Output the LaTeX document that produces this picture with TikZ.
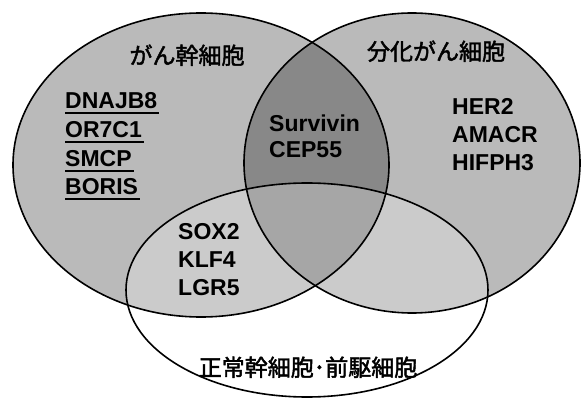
\documentclass[tikz,border=0pt]{standalone}
\usepackage{fontspec}
\setmainfont{Liberation Sans}
\newfontfamily\jp[FakeBold=2]{Noto Sans CJK JP}
\begin{document}
\begin{tikzpicture}[x=1pt,y=-1pt,
  venn/.style={draw=black, line width=1.6pt},
  grayfill/.style={fill=black, fill opacity=0.27},
  gene/.style={font=\fontsize{23}{23}\selectfont\bfseries, inner sep=0pt, anchor=base west},
  jlabel/.style={font=\jp\fontsize{23}{23}\selectfont, inner sep=0pt, anchor=base},
  ul/.style={line width=1.5pt}]
\useasboundingbox (0,0) rectangle (582,398);
% fills
\fill[grayfill] (201,165) ellipse [x radius=188pt, y radius=152pt];
\fill[grayfill] (412,163) ellipse [x radius=168pt, y radius=150pt];
\fill[white, fill opacity=0.25] (307,290) ellipse [x radius=181pt, y radius=107pt];
% outlines
\draw[venn] (201,165) ellipse [x radius=188pt, y radius=152pt];
\draw[venn] (412,163) ellipse [x radius=168pt, y radius=150pt];
\draw[venn] (307,290) ellipse [x radius=181pt, y radius=107pt];
% set labels
\node[jlabel] (lc) at (187,64) {がん幹細胞};
\node[jlabel] (lr) at (436,60) {分化がん細胞};
\node[jlabel] (lb) at (308,376) {正常幹細胞･前駆細胞};
% cancer stem cell genes
\node[gene] (g1) at (65,109) {DNAJB8};
\node[gene] (g2) at (65,138) {OR7C1};
\node[gene] (g3) at (65,167) {SMCP};
\node[gene] (g4) at (65,195) {BORIS};
\foreach \g in {g1,g2,g3,g4}
  \draw[ul] ([yshift=-4pt]\g.base west) -- ([yshift=-4pt,xshift=2pt]\g.base east);
% overlap genes
\node[gene] (s1) at (269,132) {Survivin};
\node[gene] (s2) at (269,158) {CEP55};
% differentiated cancer genes
\node[gene] (d1) at (452,115) {HER2};
\node[gene] (d2) at (452,143) {AMACR};
\node[gene] (d3) at (452,171) {HIFPH3};
% normal stem genes
\node[gene] (n1) at (178,240) {SOX2};
\node[gene] (n2) at (178,268) {KLF4};
\node[gene] (n3) at (178,296) {LGR5};
\end{tikzpicture}
\end{document}
